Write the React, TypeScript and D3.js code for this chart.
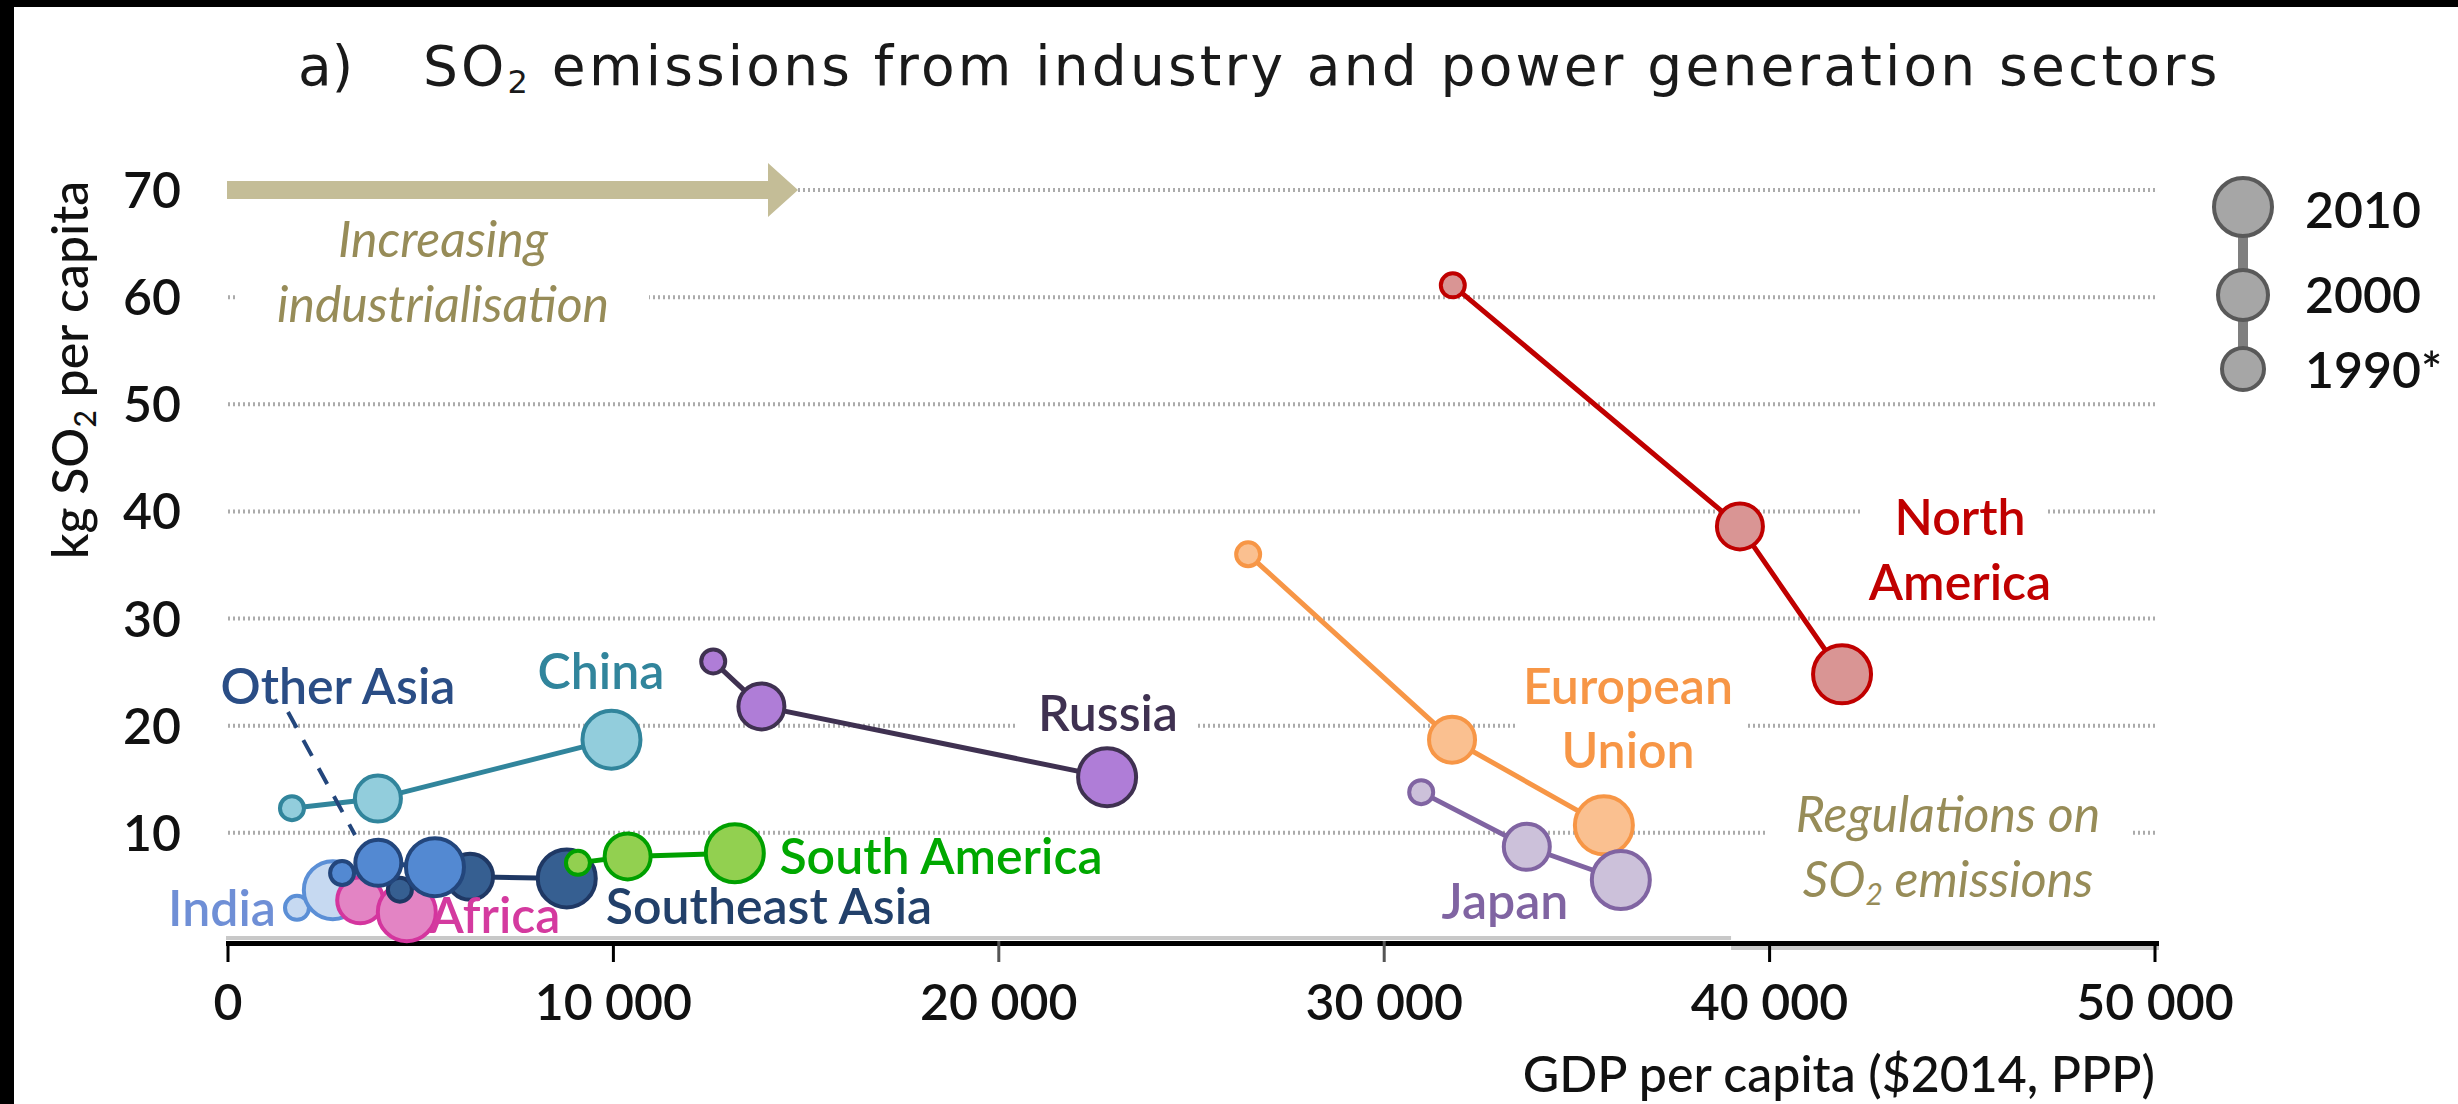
import React from "react";
import * as d3 from "d3";

// ---------- data ----------
const regions = [
  "North America",
  "European Union",
  "Japan",
  "Russia",
  "China",
  "Other Asia",
  "Southeast Asia",
  "South America",
  "India",
  "Africa",
];
const years = ["1990*", "2000", "2010"];
// GDP per capita ($2014, PPP)
const gdp1990 = [31780, 26470, 30960, 12590, 1660, 2960, 4460, 9080, 1790, 3250];
const gdp2000 = [39230, 31760, 33700, 13840, 3890, 3900, 6280, 10370, 2600, 3430];
const gdp2010 = [41880, 35700, 36140, 22810, 9950, 5370, 8790, 13150, 2720, 4640];
// kg SO2 per capita
const so2_1990 = [61.1, 36.0, 13.8, 26.0, 12.3, 6.25, 4.7, 7.2, 3.0, 3.5];
const so2_2000 = [38.6, 18.7, 8.7, 21.8, 13.2, 7.2, 5.9, 7.8, 4.5, 3.7];
const so2_2010 = [24.8, 10.7, 5.6, 15.2, 18.7, 6.8, 5.75, 8.1, 4.65, 2.6];

const xTicks = [0, 10000, 20000, 30000, 40000, 50000];
const xTickLabels = ["0", "10 000", "20 000", "30 000", "40 000", "50 000"];
const yTicks = [10, 20, 30, 40, 50, 60, 70];
const legendYears = ["2010", "2000", "1990*"];

// ---------- styles ----------
const strokeColors = ["#c00000", "#f79646", "#8064a2", "#3f3151", "#31859c", "#23467c", "#1f3864", "#00a000", "#5b8fd6", "#d4359e"];
const fillColors = ["#d99594", "#fac090", "#ccc1da", "#af7dd7", "#92cddc", "#5389d2", "#365f91", "#92d050", "#c6d9f1", "#e384c4"];
const labelColors = ["#c00000", "#f79646", "#8064a2", "#3f3151", "#31859c", "#2a4d85", "#22406a", "#00a800", "#6f8fd6", "#d43a9f"];
const drawOrder = [0, 1, 2, 3, 8, 9, 6, 5, 4, 7];
const radii = [12, 23, 29];
const FONT = "Lato, 'Open Sans', sans-serif";
const KHAKI = "#978c58";

const regionLabels = [
  { i: 0, lines: ["North", "America"], x: 1960, ys: [535, 600], box: [1862, 492, 2048, 608] },
  { i: 1, lines: ["European", "Union"], x: 1628, ys: [704, 768], box: [1518, 660, 1748, 778] },
  { i: 2, lines: ["Japan"], x: 1505, ys: [919] },
  { i: 3, lines: ["Russia"], x: 1108, ys: [731], box: [1018, 690, 1196, 740] },
  { i: 4, lines: ["China"], x: 601, ys: [689] },
  { i: 5, lines: ["Other Asia"], x: 338, ys: [704] },
  { i: 7, lines: ["South America"], x: 941, ys: [874] },
  { i: 6, lines: ["Southeast Asia"], x: 769, ys: [924] },
  { i: 8, lines: ["India"], x: 222, ys: [926] },
  { i: 9, lines: ["Africa"], x: 495, ys: [933] },
];

export default function App() {
  const W = 2458;
  const H = 1104;
  const x = d3.scaleLinear().domain([0, 50000]).range([228, 2155]);
  const y = d3.scaleLinear().domain([0, 70]).range([940, 190]);

  const series = regions.map((name, i) => ({
    name,
    pts: [
      [gdp1990[i], so2_1990[i]],
      [gdp2000[i], so2_2000[i]],
      [gdp2010[i], so2_2010[i]],
    ] as [number, number][],
  }));
  const line = d3
    .line<[number, number]>()
    .x((d) => x(d[0]))
    .y((d) => y(d[1]));

  // arrow along the 70 gridline
  const ay = y(70);
  const ax0 = x(0) - 1;
  const ax1 = 798;
  const arrowPath = d3.path();
  arrowPath.moveTo(ax0, ay - 9);
  arrowPath.lineTo(ax1 - 30, ay - 9);
  arrowPath.lineTo(ax1 - 30, ay - 27);
  arrowPath.lineTo(ax1, ay);
  arrowPath.lineTo(ax1 - 30, ay + 27);
  arrowPath.lineTo(ax1 - 30, ay + 9);
  arrowPath.lineTo(ax0, ay + 9);
  arrowPath.closePath();

  const legendR = [29, 25, 21];
  const legendY = [207, 295, 369];
  const legendX = 2243;

  return (
    <svg
      width={W}
      height={H}
      style={{ position: "fixed", left: 0, top: 0, background: "#fff" }}
      fontFamily={FONT}
    >
      <rect x={0} y={0} width={W} height={H} fill="#fff" />
      <rect x={0} y={0} width={W} height={7} fill="#000" />
      <rect x={0} y={0} width={14} height={H} fill="#000" />

      {/* title */}
      <text x={298} y={85} fontFamily="'DejaVu Sans', sans-serif" fontSize={55} fill="#1a1a1a">
        a)
      </text>
      <text
        x={423}
        y={85}
        fontFamily="'DejaVu Sans', sans-serif"
        fontSize={55}
        letterSpacing={3.2}
        fill="#1a1a1a"
      >
        SO<tspan fontSize={32} dy={8}>2</tspan>
        <tspan dy={-8}> emissions from industry and power generation sectors</tspan>
      </text>

      {/* gridlines */}
      {yTicks.map((t) => (
        <line
          key={t}
          x1={x(0)}
          x2={2158}
          y1={y(t)}
          y2={y(t)}
          stroke="#ababab"
          strokeWidth={4}
          strokeDasharray="2 3"
        />
      ))}

      {/* white boxes behind annotations */}
      {regionLabels
        .filter((l) => l.box)
        .map((l) => (
          <rect
            key={"b" + l.i}
            x={l.box![0]}
            y={l.box![1]}
            width={l.box![2] - l.box![0]}
            height={l.box![3] - l.box![1]}
            fill="#fff"
          />
        ))}
      <rect x={236} y={212} width={413} height={120} fill="#fff" />
      <rect x={1768} y={788} width={362} height={118} fill="#fff" />

      {/* arrow */}
      <path d={arrowPath.toString()} fill="#c4bd97" />

      {/* y tick labels */}
      {yTicks.map((t) => (
        <text
          key={t}
          x={181}
          y={y(t) + 18}
          textAnchor="end"
          fontSize={50}
          fontWeight={600}
          fill="#111"
        >
          {t}
        </text>
      ))}

      {/* y axis title */}
      <text
        transform="translate(88,370) rotate(-90)"
        textAnchor="middle"
        fontSize={50}
        fontWeight={500}
        fill="#111"
      >
        kg SO<tspan fontSize={30} dy={8}>2</tspan>
        <tspan dy={-8}> per capita</tspan>
      </text>

      {/* x axis */}
      <line x1={x(0) - 2} x2={x(39000)} y1={938} y2={938} stroke="#c8c8c8" strokeWidth={4} />
      <line x1={x(39000)} x2={2159} y1={948} y2={948} stroke="#c8c8c8" strokeWidth={4} />
      <line x1={x(0) - 2} x2={2159} y1={943.5} y2={943.5} stroke="#000" strokeWidth={5} />
      {xTicks.map((t, k) => (
        <g key={t}>
          <line x1={x(t)} x2={x(t)} y1={941} y2={962} stroke={k >= 2 && k <= 3 ? "#555" : "#000"} strokeWidth={3} />
          <text x={x(t)} y={1020} textAnchor="middle" fontSize={50} fontWeight={600} fill="#111">
            {xTickLabels[k]}
          </text>
        </g>
      ))}
      <text x={2155} y={1092} textAnchor="end" fontSize={50} fontWeight={500} fill="#111">
        GDP per capita ($2014, PPP)
      </text>

      {/* series */}
      {drawOrder.map((i) => {
        const s = series[i];
        return (
          <g key={s.name}>
            <path d={line(s.pts) || ""} fill="none" stroke={strokeColors[i]} strokeWidth={5} />
            {[0, 1, 2].map((k) => (
              <circle
                key={years[k]}
                cx={x(s.pts[k][0])}
                cy={y(s.pts[k][1])}
                r={radii[k]}
                fill={fillColors[i]}
                stroke={strokeColors[i]}
                strokeWidth={4}
              />
            ))}
          </g>
        );
      })}

      {/* Other Asia leader */}
      <line x1={288} y1={712} x2={355} y2={835} stroke="#23467c" strokeWidth={4} strokeDasharray="18 14" />

      {/* region labels */}
      {regionLabels.map((l) =>
        l.lines.map((t, k) => (
          <text
            key={l.i + "-" + k}
            x={l.x}
            y={l.ys[k]}
            textAnchor="middle"
            fontSize={50}
            fontWeight={600}
            fill={labelColors[l.i]}
          >
            {t}
          </text>
        ))
      )}

      {/* italic annotations */}
      <text x={443} y={257} textAnchor="middle" fontSize={50} fontStyle="italic" fill={KHAKI}>
        Increasing
      </text>
      <text x={443} y={322} textAnchor="middle" fontSize={50} fontStyle="italic" fill={KHAKI}>
        industrialisation
      </text>
      <text x={1948} y={832} textAnchor="middle" fontSize={50} fontStyle="italic" fill={KHAKI}>
        Regulations on
      </text>
      <text x={1948} y={897} textAnchor="middle" fontSize={50} fontStyle="italic" fill={KHAKI}>
        SO<tspan fontSize={30} dy={8}>2</tspan>
        <tspan dy={-8}> emissions</tspan>
      </text>

      {/* legend */}
      <line x1={legendX} x2={legendX} y1={legendY[0]} y2={legendY[2]} stroke="#7f7f7f" strokeWidth={10} />
      {legendYears.map((yr, k) => (
        <g key={yr}>
          <circle cx={legendX} cy={legendY[k]} r={legendR[k]} fill="#a6a6a6" stroke="#595959" strokeWidth={4} />
          <text x={2305} y={[210, 295, 370][k] + 18} fontSize={50} fontWeight={600} fill="#111">
            {yr}
          </text>
        </g>
      ))}
    </svg>
  );
}
